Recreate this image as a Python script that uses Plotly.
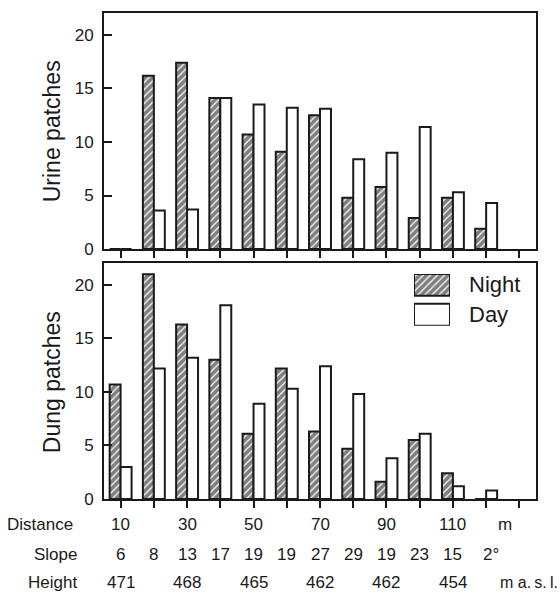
import plotly.graph_objects as go

# Sampling stations along the transect (index 0..11), plus one empty slot at the end
stations = list(range(12))
n_slots = 13

urine_night = [0, 16.2, 17.4, 14.1, 10.7, 9.1, 12.5, 4.8, 5.8, 2.9, 4.8, 1.9]
urine_day = [0, 3.6, 3.7, 14.1, 13.5, 13.2, 13.1, 8.4, 9.0, 11.4, 5.3, 4.3]
dung_night = [10.7, 21.0, 16.3, 13.0, 6.1, 12.2, 6.3, 4.7, 1.6, 5.5, 2.4, 0]
dung_day = [3.0, 12.2, 13.2, 18.1, 8.9, 10.3, 12.4, 9.8, 3.8, 6.1, 1.2, 0.8]

distance_pos = [0, 2, 4, 6, 8, 10]
distance_labels = ["10", "30", "50", "70", "90", "110"]
slope_labels = ["6", "8", "13", "17", "19", "19", "27", "29", "19", "23", "15", "2°"]
height_pos = [0, 2, 4, 6, 8, 10]
height_labels = ["471", "468", "465", "462", "462", "454"]

INK = "#1a1a1a"
FONT = "Liberation Sans, Arial, Helvetica, sans-serif"

night_marker = dict(
    color="white",
    line=dict(color=INK, width=2),
    pattern=dict(shape="/", fgcolor="#000000", bgcolor="white", size=5, solidity=0.75),
)
day_marker = dict(color="white", line=dict(color=INK, width=2))

fig = go.Figure()
fig.add_trace(go.Bar(x=stations, y=urine_night, name="Night", marker=night_marker,
                     xaxis="x", yaxis="y", showlegend=False))
fig.add_trace(go.Bar(x=stations, y=urine_day, name="Day", marker=day_marker,
                     xaxis="x", yaxis="y", showlegend=False))
fig.add_trace(go.Bar(x=stations, y=dung_night, name="Night", marker=night_marker,
                     xaxis="x2", yaxis="y2", showlegend=False))
fig.add_trace(go.Bar(x=stations, y=dung_day, name="Day", marker=day_marker,
                     xaxis="x2", yaxis="y2", showlegend=False))

# Legend keys: large swatches drawn on a small hidden axis
fig.add_trace(go.Bar(x=[0.5], y=[22 / 52], base=[30 / 52], width=[1], offset=-0.5,
                     marker=night_marker, xaxis="x3", yaxis="y3",
                     showlegend=False, hoverinfo="skip", cliponaxis=False))
fig.add_trace(go.Bar(x=[0.5], y=[22 / 52], base=[0], width=[1], offset=-0.5,
                     marker=day_marker, xaxis="x3", yaxis="y3",
                     showlegend=False, hoverinfo="skip", cliponaxis=False))

xcommon = dict(
    range=[-0.5, n_slots - 0.5], tickvals=list(range(n_slots)), ticks="outside",
    ticklen=7, tickwidth=2, tickcolor=INK, showticklabels=False,
    showline=True, linewidth=2, linecolor=INK, mirror=True, showgrid=False,
    zeroline=False, fixedrange=True,
)
ycommon = dict(
    range=[0, 22.05], tickvals=[0, 5, 10, 15, 20], ticks="inside", ticklen=8,
    tickwidth=2, tickcolor=INK, showline=True, linewidth=2, linecolor=INK,
    mirror=True, showgrid=False, zeroline=False,
    tickfont=dict(size=17, color=INK, family=FONT), ticklabelstandoff=5,
)

fig.update_layout(
    width=560, height=594,
    margin=dict(l=104, r=24, t=11, b=95),
    paper_bgcolor="white", plot_bgcolor="white",
    barmode="group", bargap=0.34, bargroupgap=0,
    font=dict(family=FONT, color=INK),
    xaxis=dict(domain=[0, 1], anchor="y", **xcommon),
    yaxis=dict(domain=[0.5143, 1], anchor="x", **ycommon),
    xaxis2=dict(domain=[0, 1], anchor="y2", **xcommon),
    yaxis2=dict(domain=[0, 0.4857], anchor="x2", **ycommon),
    xaxis3=dict(domain=[0.7176, 0.8009], anchor="y3", range=[0, 1], visible=False,
                fixedrange=True),
    yaxis3=dict(domain=[0.3566, 0.4631], anchor="x3", range=[0, 1], visible=False,
                fixedrange=True),
)


def label(text, x, y, xref="paper", xanchor="center", size=17, **kw):
    return dict(text=text, x=x, y=y, xref=xref, yref="paper", xanchor=xanchor,
                yanchor="middle", showarrow=False, font=dict(size=size), **kw)


annotations = [
    label("Urine patches", -0.12, 0.757, size=23, textangle=-90),
    label("Dung patches", -0.12, 0.2408, size=23, textangle=-90),
    label("Night", 0.8403, 0.4406, xanchor="left", size=22),
    label("Day", 0.8403, 0.3791, xanchor="left", size=22),
]

row_y = {"Distance": -0.0533, "Slope": -0.1148, "Height": -0.1721}
row_right = {"Distance": -0.0671, "Slope": -0.0579, "Height": -0.0579}
for name in row_y:
    annotations.append(label(name, row_right[name], row_y[name], xanchor="right"))

for pos, lab in zip(distance_pos, distance_labels):
    annotations.append(label(lab, pos, row_y["Distance"], xref="x2"))
annotations.append(label("m", 11.58, row_y["Distance"], xref="x2"))

for pos, lab in zip(stations, slope_labels):
    if lab.endswith("°"):
        annotations.append(label(lab, pos, row_y["Slope"], xref="x2",
                                 xanchor="left", xshift=-5))
    else:
        annotations.append(label(lab, pos, row_y["Slope"], xref="x2"))

for pos, lab in zip(height_pos, height_labels):
    annotations.append(label(lab, pos, row_y["Height"], xref="x2"))
annotations.append(label("m a.\u2009s.\u2009l.", 11.37, row_y["Height"], xref="x2",
                         xanchor="left", size=16))

fig.update_layout(annotations=annotations)

fig.write_html("out.html")
